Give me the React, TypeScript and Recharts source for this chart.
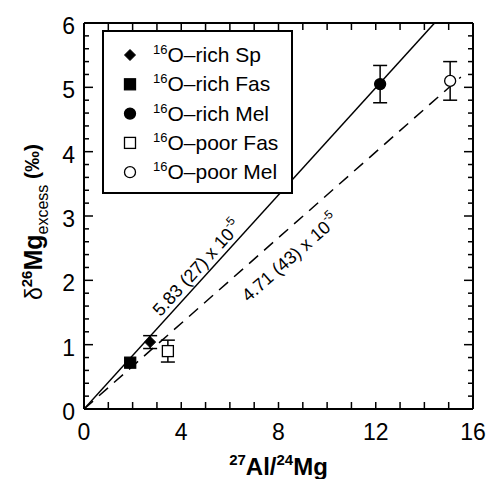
import React from 'react';
import { ScatterChart, Scatter, XAxis, YAxis, ErrorBar, ReferenceDot, Legend, Label } from 'recharts';

const FONT = '"Liberation Sans", Arial, Helvetica, sans-serif';

// ---- data ----
const richSp = [{ x: 2.72, y: 1.04, err: 0.1 }];
const richFas = [{ x: 1.9, y: 0.72, err: 0.04 }];
const richMel = [{ x: 12.18, y: 5.05, err: 0.29 }];
const poorFas = [{ x: 3.45, y: 0.9, err: 0.17 }];
const poorMel = [{ x: 15.06, y: 5.1, err: 0.3 }];

const solidFit = [{ x: 0, y: 0 }, { x: 14.42, y: 6 }];
const dashedFit = [{ x: 0, y: 0 }, { x: 15.5, y: 5.16 }];

const xMinorTicks = [0, 1, 2, 3, 4, 5, 6, 7, 8, 9, 10, 11, 12, 13, 14, 15, 16];
const xLabelTicks = [0, 4, 8, 12, 16];
const yMinorTicks = [0, 0.2, 0.4, 0.6, 0.8, 1, 1.2, 1.4, 1.6, 1.8, 2, 2.2, 2.4, 2.6, 2.8, 3, 3.2, 3.4, 3.6, 3.8, 4, 4.2, 4.4, 4.6, 4.8, 5, 5.2, 5.4, 5.6, 5.8, 6];
const yLabelTicks = [0, 1, 2, 3, 4, 5, 6];

const legendItems = [
  { name: 'O–rich Sp', shape: 'diamond', filled: true },
  { name: 'O–rich Fas', shape: 'square', filled: true },
  { name: 'O–rich Mel', shape: 'circle', filled: true },
  { name: 'O–poor Fas', shape: 'square', filled: false },
  { name: 'O–poor Mel', shape: 'circle', filled: false },
];

const solidLabel = { x: 4.65, y: 2.19, text: '5.83 (27) x 10', rot: -47.7 };
const dashedLabel = { x: 8.48, y: 2.35, text: '4.71 (43) x 10', rot: -41.4 };

// ---- shapes ----
function Sym({ shape, filled, cx, cy }: any) {
  const fill = filled ? '#000' : '#fff';
  if (shape === 'diamond') {
    const r = 5.5;
    return <path d={`M${cx},${cy - r}L${cx + r},${cy}L${cx},${cy + r}L${cx - r},${cy}Z`} fill={fill} stroke="#000" strokeWidth={1} />;
  }
  if (shape === 'square') {
    const h = 5.5;
    return <rect x={cx - h} y={cy - h} width={2 * h} height={2 * h} fill={fill} stroke="#000" strokeWidth={1.3} />;
  }
  return <circle cx={cx} cy={cy} r={5.5} fill={fill} stroke="#000" strokeWidth={1.3} />;
}

const mkShape = (shape: string, filled: boolean) => (p: any) => <Sym shape={shape} filled={filled} cx={p.cx} cy={p.cy} />;
const EmptyShape = () => <g />;

// ---- ticks ----
const BottomTick = (p: any) => {
  const { x, y, payload } = p;
  const v = payload.value;
  return (
    <g>
      <line x1={x} y1={y} x2={x} y2={y - 7} stroke="#000" strokeWidth={1.5} />
      {xLabelTicks.includes(v) && (
        <text x={x} y={y + 31} textAnchor="middle" fontSize={23} fontFamily={FONT} fill="#000">{v}</text>
      )}
    </g>
  );
};
const TopTick = (p: any) => {
  const { x, y } = p;
  return <line x1={x} y1={y} x2={x} y2={y + 7} stroke="#000" strokeWidth={1.5} />;
};
const LeftTick = (p: any) => {
  const { x, y, payload } = p;
  const v = payload.value;
  const major = yLabelTicks.includes(v);
  return (
    <g>
      <line x1={x} y1={y} x2={x + (major ? 9 : 5)} y2={y} stroke="#000" strokeWidth={1.5} />
      {major && (
        <text x={x - 9} y={y + 11} textAnchor="end" fontSize={23} fontFamily={FONT} fill="#000">{v}</text>
      )}
    </g>
  );
};
const RightTick = (p: any) => {
  const { x, y, payload } = p;
  const major = yLabelTicks.includes(payload.value);
  return <line x1={x} y1={y} x2={x - (major ? 9 : 5)} y2={y} stroke="#000" strokeWidth={1.5} />;
};

const SlopeLabel = ({ viewBox, txt, rot }: any) => {
  const cx = viewBox.x + (viewBox.width || 0) / 2;
  const cy = viewBox.y + (viewBox.height || 0) / 2;
  return (
    <g transform={`rotate(${rot} ${cx} ${cy})`}>
      <text x={cx} y={cy + 6} textAnchor="middle" fontSize={18} fontFamily={FONT} fill="#000">
        {txt}
        <tspan fontSize={12} dy={-9}>-5</tspan>
      </text>
    </g>
  );
};

const XTitle = ({ viewBox }: any) => {
  const cx = viewBox.x + viewBox.width / 2;
  const y = viewBox.y + 66;
  return (
    <text x={cx} y={y} textAnchor="middle" fontSize={24} fontWeight="bold" fontFamily={FONT} fill="#000">
      <tspan fontSize={15} dy={-10}>27</tspan>
      <tspan dy={10}>Al/</tspan>
      <tspan fontSize={15} dy={-10}>24</tspan>
      <tspan dy={10}>Mg</tspan>
    </text>
  );
};

const YTitle = ({ viewBox }: any) => {
  const x = 42;
  const cy = viewBox.y + viewBox.height / 2 + 6;
  return (
    <g transform={`rotate(-90 ${x} ${cy})`}>
      <text x={x} y={cy} textAnchor="middle" fontFamily={FONT} fill="#000">
        <tspan fontSize={23}>δ</tspan>
        <tspan fontSize={15} fontWeight="bold" dy={-10}>26</tspan>
        <tspan fontSize={25} fontWeight="bold" dy={10}>Mg</tspan>
        <tspan fontSize={16} dy={6}>excess</tspan>
        <tspan fontSize={21} fontWeight="bold" dy={-9}> (‰)</tspan>
      </text>
    </g>
  );
};

const LegendBox = () => (
  <svg width={191} height={164} style={{ display: 'block' }}>
    <rect x={1} y={1} width={189} height={162} fill="#fff" stroke="#000" strokeWidth={2} />
    {legendItems.map((it, i) => {
      const cy = 25 + i * 29.3;
      return (
        <g key={it.name}>
          <Sym shape={it.shape} filled={it.filled} cx={28} cy={cy} />
          <text x={51} y={cy + 7} fontSize={21} fontFamily={FONT} fill="#000">
            <tspan fontSize={13} dy={-8}>16</tspan>
            <tspan dy={8}>{it.name}</tspan>
          </text>
        </g>
      );
    })}
  </svg>
);

export default function App() {
  return (
    <div style={{ position: 'absolute', left: 0, top: 0, width: 493, height: 479, background: '#fff' }}>
      <ScatterChart width={493} height={479} margin={{ top: 22, right: 19, bottom: 69, left: 83 }}>
        <XAxis xAxisId="b" type="number" dataKey="x" domain={[0, 16]} ticks={xMinorTicks} interval={0} height={1} orientation="bottom" tickSize={0} tickMargin={0} tickLine={false} tick={<BottomTick />} axisLine={{ stroke: '#000', strokeWidth: 2 }} allowDataOverflow>
          <Label content={<XTitle />} />
        </XAxis>
        <XAxis xAxisId="t" type="number" dataKey="x" domain={[0, 16]} ticks={xMinorTicks} interval={0} height={1} orientation="top" tickSize={0} tickMargin={0} tickLine={false} tick={<TopTick />} axisLine={{ stroke: '#000', strokeWidth: 2 }} allowDataOverflow />
        <YAxis yAxisId="l" type="number" dataKey="y" domain={[0, 6]} ticks={yMinorTicks} interval={0} width={1} orientation="left" tickSize={0} tickMargin={0} tickLine={false} tick={<LeftTick />} axisLine={{ stroke: '#000', strokeWidth: 2 }} allowDataOverflow>
          <Label content={<YTitle />} />
        </YAxis>
        <YAxis yAxisId="r" type="number" dataKey="y" domain={[0, 6]} ticks={yMinorTicks} interval={0} width={1} orientation="right" tickSize={0} tickMargin={0} tickLine={false} tick={<RightTick />} axisLine={{ stroke: '#000', strokeWidth: 2 }} allowDataOverflow />

        <Scatter xAxisId="b" yAxisId="l" data={solidFit} line={{ stroke: '#000', strokeWidth: 1.5 }} shape={EmptyShape} legendType="none" isAnimationActive={false} />
        <Scatter xAxisId="b" yAxisId="l" data={dashedFit} line={{ stroke: '#000', strokeWidth: 1.5, strokeDasharray: '12 8' }} shape={EmptyShape} legendType="none" isAnimationActive={false} />

        <Scatter name="16O–rich Sp" xAxisId="b" yAxisId="l" data={richSp} shape={mkShape('diamond', true)} isAnimationActive={false}>
          <ErrorBar dataKey="err" direction="y" width={7} stroke="#000" strokeWidth={1.5} />
        </Scatter>
        <Scatter name="16O–rich Fas" xAxisId="b" yAxisId="l" data={richFas} shape={mkShape('square', true)} isAnimationActive={false} />
        <Scatter name="16O–rich Mel" xAxisId="b" yAxisId="l" data={richMel} shape={mkShape('circle', true)} isAnimationActive={false}>
          <ErrorBar dataKey="err" direction="y" width={7} stroke="#000" strokeWidth={1.5} />
        </Scatter>
        <Scatter name="16O–poor Fas" xAxisId="b" yAxisId="l" data={poorFas} shape={mkShape('square', false)} isAnimationActive={false}>
          <ErrorBar dataKey="err" direction="y" width={7} stroke="#000" strokeWidth={1.5} />
        </Scatter>
        <Scatter name="16O–poor Mel" xAxisId="b" yAxisId="l" data={poorMel} shape={mkShape('circle', false)} isAnimationActive={false}>
          <ErrorBar dataKey="err" direction="y" width={7} stroke="#000" strokeWidth={1.5} />
        </Scatter>

        <ReferenceDot xAxisId="b" yAxisId="l" x={solidLabel.x} y={solidLabel.y} r={0} stroke="none" fill="none" label={<SlopeLabel txt={solidLabel.text} rot={solidLabel.rot} />} />
        <ReferenceDot xAxisId="b" yAxisId="l" x={dashedLabel.x} y={dashedLabel.y} r={0} stroke="none" fill="none" label={<SlopeLabel txt={dashedLabel.text} rot={dashedLabel.rot} />} />

        <Legend layout="vertical" align="center" verticalAlign="middle" content={<LegendBox />} wrapperStyle={{ position: 'absolute', left: 102, top: 30, width: 191, height: 164 }} />
      </ScatterChart>
    </div>
  );
}
